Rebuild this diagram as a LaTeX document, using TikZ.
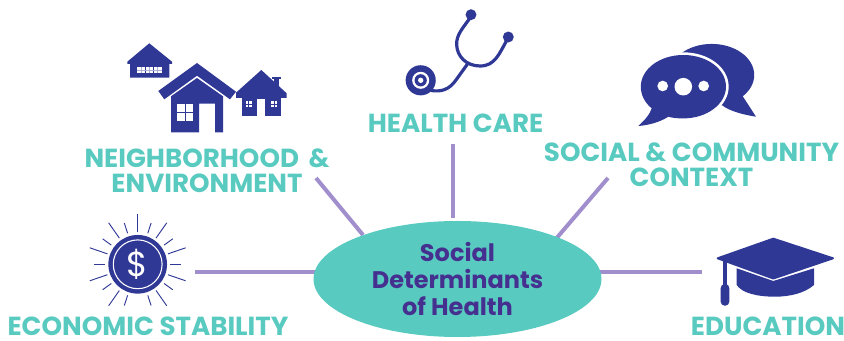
\documentclass[tikz,border=0pt]{standalone}
\usepackage{fontspec}
\setmainfont{Poppins}
\usetikzlibrary{shapes.geometric}
\definecolor{navy}{HTML}{303896}
\definecolor{teal1}{HTML}{58CAC0}
\definecolor{lilac}{HTML}{A08FCC}
\definecolor{deep}{HTML}{46308F}
\tikzset{
  link/.style={draw=lilac,line width=3pt},
  lab/.style={text=teal1,font=\fontsize{19.6}{18.8}\selectfont\bfseries,align=center,inner sep=0pt},
  icon/.style={fill=navy,draw=none},
  hole/.style={fill=white,draw=none},
  pane/.style={fill=navy!40!white,draw=none},
  ray/.style={draw=navy,line width=0.7pt},
  tube/.style={draw=navy,line width=2.4pt,line cap=round}
}
\newcommand{\frontbubble}{(683.3,55)
  .. controls (707,55) and (726,69) .. (726,86.7)
  .. controls (726,104) and (707,118.4) .. (683.3,118.4)
  .. controls (677,118.4) and (673,118) .. (668.3,116.7)
  .. controls (660,122) and (650,125) .. (638.3,126)
  .. controls (645,120) and (650,114) .. (651.7,108.3)
  .. controls (645,103) and (640.8,95) .. (640.8,86.7)
  .. controls (640.8,69) and (660,55) .. (683.3,55) -- cycle}
\begin{document}
\begin{tikzpicture}[x=0.75pt,y=-0.75pt]
\useasboundingbox (0,0) rectangle (844,341);
% hub
\coordinate (a1) at (453,144); \coordinate (a2) at (453,218);
\coordinate (b1) at (316,178); \coordinate (b2) at (363,235);
\coordinate (c1) at (608,178); \coordinate (c2) at (555,240);
\coordinate (d1) at (195,272); \coordinate (d2) at (316,272);
\coordinate (e1) at (600,272); \coordinate (e2) at (702,272);
\draw[link] (a1) -- (a2);
\draw[link] (b1) -- (b2);
\draw[link] (c1) -- (c2);
\draw[link] (d1) -- (d2);
\draw[link] (e1) -- (e2);
\node[ellipse,fill=teal1,minimum width=216pt,minimum height=87pt,inner sep=0pt,
      text=deep,align=center,font=\fontsize{18}{20}\selectfont\bfseries] (hub) at (457.5,279)
      {Social\\Determinants\\of Health};
% labels
\node[lab] (n) at (207,171) {NEIGHBORHOOD\hspace{3pt} \&\\ENVIRONMENT};
\node[lab] (h) at (455.5,123) {HEALTH CARE};
\node[lab] (s) at (691.5,165) {SOCIAL \& COMMUNITY\\CONTEXT};
\node[lab] (m) at (148,326) {ECONOMIC STABILITY};
\node[lab] (t) at (768,326) {EDUCATION};
% small house
\fill[icon] (149.3,43.3) -- (172,61.7) -- (172,64) -- (169.3,64) -- (169.3,77.7) -- (130,77.7) -- (130,64) -- (127.3,64) -- (127.3,61.7) -- cycle;
\fill[hole] (137.3,67.3) rectangle (161.7,73);
\foreach \x in {144.5,152.8}{\fill[icon] (\x,66) rectangle +(1.5,8);}
\foreach \x in {141,149,157.5}{\fill[pane] (\x-.3,67.3) rectangle +(.6,5.7);}
\fill[pane] (137.3,70) rectangle (161.7,70.5);
% big house
\fill[icon] (197,63) -- (236,91.7) -- (230,99.3) -- (197,75.7) -- (164.3,99.3) -- (158.3,91) -- cycle;
\fill[icon] (197,78) -- (223,96.3) -- (223,132.3) -- (215,132.3) -- (215,103.7) -- (199,103.7) -- (199,132.3) -- (171,132.3) -- (171,96.3) -- cycle;
\fill[hole] (177,103.7) rectangle (193,121);
\fill[icon] (184.5,103.7) rectangle (185.5,121);
\fill[icon] (177,112) rectangle (193,113);
% third house
\fill[icon] (272,76.7) rectangle (281,78.7);
\fill[icon] (273.7,78.7) rectangle (279,90);
\fill[icon] (261.3,70) -- (286.7,93.3) -- (286.7,98) -- (236,98) -- (236,92.7) -- cycle;
\fill[icon] (241.7,97) rectangle (281,115.7);
\fill[hole] (257.3,99.3) rectangle (265,115.7);
\foreach \x in {245.7,271}{
  \fill[hole] (\x,101) rectangle +(6,6);
  \fill[icon] (\x+2.7,101) rectangle +(.6,6);
  \fill[icon] (\x,103.7) rectangle +(6,.6);
}
% stethoscope
\fill[icon] (471,14.7) circle[radius=4.1pt];
\fill[icon] (508.3,37) circle[radius=4.1pt];
\draw[tube] (470,18) .. controls (463,28) and (456,35) .. (456.7,45)
  .. controls (457,56) and (466,66) .. (480,66)
  .. controls (495,66) and (499,54) .. (507,40);
\draw[tube] (467.3,64.3) -- (456,80) .. controls (449,90) and (441,92) .. (431,90.5);
\fill[icon] (420.7,80.3) circle[radius=11.3pt];
\fill[hole] (420.7,80.3) circle[radius=6.4pt];
\fill[icon] (420.7,80.3) circle[radius=4.6pt];
\fill[hole] (420.7,80.3) circle[radius=2pt];
% speech
\fill[icon] (711.7,75) ellipse[x radius=31.9pt,y radius=23.3pt];
\fill[icon] (740,92) -- (756,116.7) .. controls (745,115) and (733,112) .. (725,107.3) -- (715,100) -- cycle;
\draw[white,line width=4pt] \frontbubble;
\fill[navy] \frontbubble;
\fill[hole] (662.7,86) circle[radius=4pt];
\fill[hole] (683.3,86.7) circle[radius=6.6pt];
\fill[hole] (703.7,86) circle[radius=4pt];
% dollar
\coordinate (k) at (137.7,264.3);
\foreach \ang in {90,55,19,-19,-55,125,161,199,235}{\draw[ray] (k) ++(\ang:24pt) -- ++(\ang:14pt);}
\foreach \ang in {72,36,0,-36,-72,108,144,180,216,252}{\draw[ray] (k) ++(\ang:24.5pt) -- ++(\ang:8pt);}
\fill[icon] (k) circle[radius=22pt];
\draw[white,line width=0.8pt] (k) circle[radius=18.3pt];
\node[text=white,font=\fontsize{26}{26}\selectfont,inner sep=0pt] (dollar) at (k) {\$};
% cap
\fill[icon] (736.7,268.3) -- (773.3,281) -- (814,268.3) -- (814,285) .. controls (805,293) and (790,296.7) .. (775,296.7) .. controls (757,296.7) and (742,293) .. (736.7,285) -- cycle;
\path[fill=navy,draw=navy,line width=1.5pt,line join=round] (773.3,238.7) -- (833,258.3) -- (773.3,278.5) -- (717.7,258.3) -- cycle;
\fill[icon] (723.3,260) rectangle (726.7,286);
\fill[icon,rounded corners=3pt] (720.7,284) rectangle (729.3,305.7);
\end{tikzpicture}
\end{document}
